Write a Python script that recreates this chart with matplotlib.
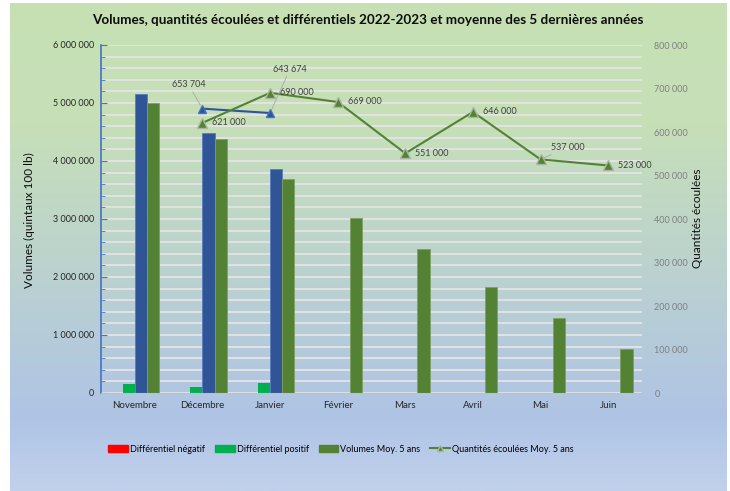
import numpy as np
import matplotlib
matplotlib.use("Agg")
import matplotlib.pyplot as plt
from matplotlib.colors import LinearSegmentedColormap
from matplotlib.patches import Patch
from matplotlib.lines import Line2D
from matplotlib.ticker import FuncFormatter, MultipleLocator

plt.rcParams['font.family'] = ['Lato', 'DejaVu Sans']

# donnees
mois = ['Novembre', 'Décembre', 'Janvier', 'Février', 'Mars', 'Avril', 'Mai', 'Juin']
diff_negatif = [0, 0, 0, 0, 0, 0, 0, 0]
diff_positif = [150000, 110000, 170000, 0, 0, 0, 0, 0]
volumes_2022 = [5150000, 4490000, 3860000, np.nan, np.nan, np.nan, np.nan, np.nan]
volumes_moy5 = [5000000, 4380000, 3690000, 3020000, 2480000, 1830000, 1290000, 760000]
quantites_2022 = [np.nan, 653704, 643674, np.nan, np.nan, np.nan, np.nan, np.nan]
quantites_moy5 = [np.nan, 621000, 690000, 669000, 551000, 646000, 537000, 523000]

c_rouge = '#ff0000'
c_vert_clair = '#00b050'
c_bleu = '#2f5597'
c_vert = '#548235'

fig = plt.figure(figsize=(7.3, 4.91), dpi=100)

# fond en degrade
bg = fig.add_axes([0, 0, 1, 1], zorder=-10)
bg.set_xlim(0, 1)
bg.set_ylim(0, 1)
bg.axis('off')
cmap = LinearSegmentedColormap.from_list('fond', [
    (0.0, '#c7e1b4'), (0.25, '#c6dfb8'), (0.5, '#bdd4cc'),
    (0.85, '#afc4e5'), (1.0, '#c1d1ec')])
grad = np.linspace(0, 1, 256).reshape(-1, 1)
bg.imshow(grad, cmap=cmap, aspect='auto', extent=[10 / 730, 727 / 730, 0, 1 - 3 / 491],
          origin='upper')

ax = fig.add_axes([101 / 730, 1 - 393 / 491, 541 / 730, 348 / 491])
ax.set_facecolor('none')
x = np.arange(len(mois))
w = 0.18
ax.bar(x - 1.5 * w, diff_negatif, w, color=c_rouge)
ax.bar(x - 0.5 * w, diff_positif, w, color=c_vert_clair)
ax.bar(x + 0.5 * w, volumes_2022, w, color=c_bleu, edgecolor='#5a7bbd', linewidth=0.6)
ax.bar(x + 1.5 * w, volumes_moy5, w, color=c_vert, edgecolor='#7ea062', linewidth=0.6)

ax.set_xlim(-0.5, len(mois) - 0.5)
ax.set_ylim(0, 6000000)
ax.yaxis.set_major_locator(MultipleLocator(1000000))
ax.yaxis.set_minor_locator(MultipleLocator(200000))
ax.yaxis.set_major_formatter(FuncFormatter(lambda v, p: f"{int(v):,}".replace(',', ' ')))
ax.grid(axis='y', which='both', color='#e4e4e4', linewidth=1.3)
ax.set_axisbelow(True)
ax.set_xticks(x)
ax.set_xticklabels(mois, fontsize=7, color='#262626')
ax.tick_params(axis='x', length=0, pad=6)
ax.tick_params(axis='y', which='both', direction='in', color='#4472c4', labelsize=6.5,
               labelcolor='#262626', pad=5)
ax.tick_params(axis='y', which='major', length=4)
ax.tick_params(axis='y', which='minor', length=3)
for s in ['top', 'right']:
    ax.spines[s].set_visible(False)
ax.spines['left'].set_color('#4472c4')
ax.spines['left'].set_linewidth(1.2)
ax.spines['bottom'].set_color('#bfbfbf')

ax2 = ax.twinx()
ax2.set_ylim(0, 800000)
ax2.yaxis.set_major_locator(MultipleLocator(100000))
ax2.yaxis.set_major_formatter(FuncFormatter(lambda v, p: f"{int(v):,}".replace(',', ' ')))
ax2.tick_params(axis='y', length=0, labelsize=6.5, labelcolor='#7f7f7f', pad=9)
for s in ax2.spines.values():
    s.set_visible(False)

ax2.plot(x, quantites_2022, color=c_bleu, lw=1.5, marker='^', ms=6,
         mfc=c_bleu, mec='#4472c4')
ax2.plot(x, quantites_moy5, color=c_vert, lw=1.5, marker='^', ms=7,
         mfc=c_vert, mec='#a9b59f')

# etiquettes
def fmt(v):
    return f"{int(v):,}".replace(',', ' ')

lab_kw = dict(fontsize=6.5, color='#404040', textcoords='offset pixels', va='center')
leader = dict(arrowstyle='-', color='#a6a6a6', lw=0.6, shrinkA=0, shrinkB=3)
ax2.annotate(fmt(quantites_2022[1]), (x[1], quantites_2022[1]), xytext=(-14, 24),
             ha='center', arrowprops=leader, **lab_kw)
ax2.annotate(fmt(quantites_2022[2]), (x[2], quantites_2022[2]), xytext=(20, 44),
             ha='center', arrowprops=leader, **lab_kw)
for i, v in enumerate(quantites_moy5):
    if np.isnan(v):
        continue
    if mois[i] == 'Mai':
        ax2.annotate(fmt(v), (x[i], v), xytext=(10, 12), ha='left', arrowprops=leader, **lab_kw)
    else:
        ax2.annotate(fmt(v), (x[i], v), xytext=(10, 0), ha='left', **lab_kw)

fig.text(0.504, 0.959, 'Volumes, quantités écoulées et différentiels 2022-2023 et moyenne des 5 dernières années',
         ha='center', va='center', fontsize=9.7, fontweight='bold', color='#0d0d0d')
fig.text(0.041, 0.552, 'Volumes (quintaux 100 lb)', rotation=90, ha='center', va='center',
         fontsize=8.5, color='#0d0d0d')
fig.text(0.955, 0.556, 'Quantités écoulées', rotation=90, ha='center', va='center',
         fontsize=8.5, color='#0d0d0d')

handles = [Patch(color=c_rouge), Patch(color=c_vert_clair), Patch(color=c_vert),
           Line2D([0], [0], color=c_vert, lw=1.5, marker='^', ms=4, mfc=c_vert, mec='#a9b59f')]
labels = ['Différentiel négatif', 'Différentiel positif', 'Volumes Moy. 5 ans',
          'Quantités écoulées Moy. 5 ans']
fig.legend(handles, labels, loc='center', bbox_to_anchor=(0.467, 0.0855), ncol=4,
           frameon=False, fontsize=6.5, handlelength=2.2, handleheight=0.7,
           handletextpad=0.2, columnspacing=1.1)

fig.savefig('out.png', dpi=100)
